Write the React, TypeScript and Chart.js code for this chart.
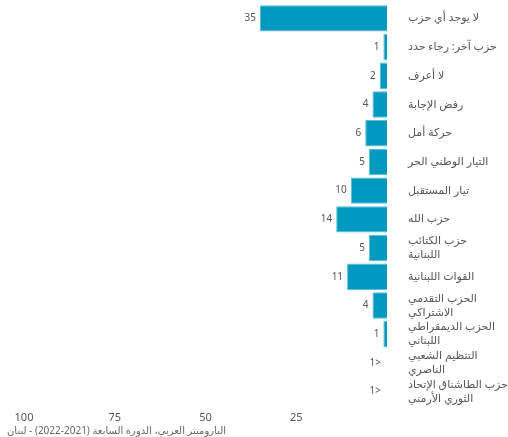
import React, { useEffect, useRef } from "react";
import { Chart, registerables } from "chart.js";

Chart.register(...registerables);

const categories: (string | string[])[] = [
  "لا يوجد أي حزب",
  "حزب آخر: رجاء حدد",
  "لا أعرف",
  "رفض الإجابة",
  "حركة أمل",
  "التيار الوطني الحر",
  "تيار المستقبل",
  "حزب الله",
  ["حزب الكتائب", "اللبنانية"],
  "القوات اللبنانية",
  ["الحزب التقدمي", "الاشتراكي"],
  ["الحزب الديمقراطي", "اللبناني"],
  ["التنظيم الشعبي", "الناصري"],
  ["حزب الطاشناق الإتحاد", "الثوري الأرمني"],
];

const values: (number | null)[] = [35, 1, 2, 4, 6, 5, 10, 14, 5, 11, 4, 1, null, null];
const valueLabels: string[] = ["35", "1", "2", "4", "6", "5", "10", "14", "5", "11", "4", "1", "<1", "<1"];
const xTicks: number[] = [0, 25, 50, 75, 100];
const footerText = "الباروميتر العربي، الدورة السابعة (2021-2022) - لبنان";

const FONT = "'Noto Sans', 'DejaVu Sans', sans-serif";

export default function App() {
  const ref = useRef<HTMLCanvasElement | null>(null);

  useEffect(() => {
    document.body.style.margin = "0";
    if (!ref.current) return;

    const labelPlugin = {
      id: "valueLabels",
      afterDatasetsDraw(chart: any) {
        const ctx = chart.ctx;
        const meta = chart.getDatasetMeta(0);
        const xScale = chart.scales.x;
        ctx.save();
        ctx.font = `10px ${FONT}`;
        ctx.fillStyle = "#555";
        ctx.textAlign = "right";
        ctx.textBaseline = "middle";
        meta.data.forEach((bar: any, i: number) => {
          const v = values[i];
          const x = v == null ? xScale.getPixelForValue(0) : bar.x;
          const y = chart.scales.y.getPixelForValue(i);
          if (v == null) {
            ctx.direction = "rtl";
            ctx.textAlign = "right";
            ctx.fillText(valueLabels[i], x - 6, y);
            ctx.direction = "ltr";
          } else {
            ctx.fillText(valueLabels[i], x - 4, y);
          }
        });
        ctx.restore();
      },
      afterDraw(chart: any) {
        const ctx = chart.ctx;
        ctx.save();
        ctx.font = `10px ${FONT}`;
        ctx.fillStyle = "#666";
        ctx.direction = "rtl";
        ctx.textAlign = "left";
        ctx.textBaseline = "middle";
        ctx.fillText(footerText, 7, 431);
        ctx.restore();
      },
    };

    const chart = new Chart(ref.current, {
      type: "bar",
      data: {
        labels: categories,
        datasets: [
          {
            data: values as any,
            backgroundColor: "#009AC0",
            borderColor: "#5cbcd6",
            borderWidth: 1,
            barPercentage: 0.92,
            categoryPercentage: 1,
          },
        ],
      },
      options: {
        indexAxis: "y",
        animation: false,
        responsive: false,
        layout: { padding: { left: 24, top: 4, right: 0, bottom: 0 } },
        plugins: {
          legend: { display: false },
          tooltip: { enabled: false },
          title: { display: false },
        },
        scales: {
          x: {
            reverse: true,
            min: 0,
            max: 100,
            afterBuildTicks(scale: any) {
              scale.ticks = xTicks.map((v) => ({ value: v }));
            },
            afterFit(scale: any) {
              scale.height = 31;
              scale.paddingLeft = 0;
              scale.paddingRight = 0;
            },
            grid: { display: false, drawTicks: false },
            border: { display: false },
            ticks: {
              padding: 5,
              color: "#555",
              font: { size: 11, family: FONT },
              maxRotation: 0,
              autoSkip: false,
              callback: (v: any) => (v === 0 ? "" : String(v)),
            },
          },
          y: {
            position: "right",
            afterFit(scale: any) {
              scale.width = 121;
              scale.paddingTop = 0;
              scale.paddingBottom = 0;
            },
            grid: { display: false, drawTicks: false },
            border: { display: false },
            ticks: {
              padding: 21,
              color: "#555",
              autoSkip: false,
              font: { size: 11, family: FONT, lineHeight: 1.25 },
            },
          },
        },
      },
      plugins: [labelPlugin],
    });

    return () => chart.destroy();
  }, []);

  return (
    <div style={{ width: 508, height: 437, position: "relative" }}>
      <canvas ref={ref} width={508} height={437} style={{ display: "block" }} />
    </div>
  );
}
